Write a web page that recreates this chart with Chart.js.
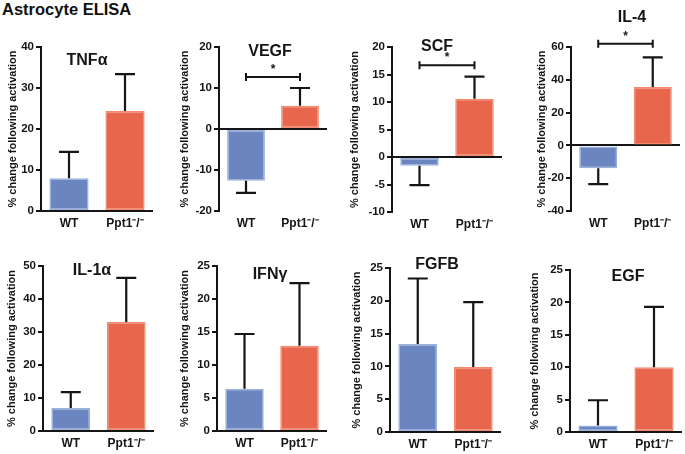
<!DOCTYPE html>
<html>
<head>
<meta charset="utf-8">
<script src="https://cdn.jsdelivr.net/npm/chart.js@4"></script>
<style>
  body { margin: 0; background: #fff; width: 685px; height: 454px; position: relative; overflow: hidden; }
  #heading { position: absolute; left: 2px; top: 0px; font: bold 16.5px "Liberation Sans", Arial, sans-serif; color: #111; }
  canvas { position: absolute; }
</style>
</head>
<body>
<div id="heading">Astrocyte ELISA</div>
<script>
// data
const cytokines = ['TNFα', 'VEGF', 'SCF', 'IL-4', 'IL-1α', 'IFNγ', 'FGFB', 'EGF'];
const groups = ['WT', 'Ppt1⁻/⁻'];
const wtMean = [8, -12.6, -1.6, -14, 7, 6.4, 13.4, 1];
const wtSD = [6.4, 3, 3.5, 9.6, 4.8, 8.3, 10, 3.9];
const ppt1Mean = [24.4, 5.7, 10.6, 35.6, 33, 12.9, 9.9, 10];
const ppt1SD = [9, 4.3, 4, 18.1, 13.4, 9.5, 9.9, 9.3];
const sigAt = [null, 12.7, 16.7, 62, null, null, null, null];
const yMin = [0, -20, -10, -40, 0, 0, 0, 0];
const yMax = [40, 20, 20, 60, 50, 25, 25, 25];
const yStep = [10, 10, 5, 20, 10, 5, 5, 5];

// where each panel sits on the page
const boxes = [
  { left: 2,   top: 0,   h: 232, axisX: 41,  right: 153, plotTop: 47,  plotBottom: 211, tx: 87,  ty: 61 },
  { left: 174, top: 0,   h: 232, axisX: 219, right: 327, plotTop: 47,  plotBottom: 211, tx: 270, ty: 52 },
  { left: 344, top: 0,   h: 232, axisX: 392, right: 502, plotTop: 47,  plotBottom: 212, tx: 437, ty: 47 },
  { left: 531, top: 0,   h: 232, axisX: 571, right: 680, plotTop: 47,  plotBottom: 211, tx: 632, ty: 18 },
  { left: 1,   top: 232, h: 222, axisX: 43,  right: 154, plotTop: 266, plotBottom: 431, tx: 92,  ty: 271 },
  { left: 174, top: 232, h: 222, axisX: 217, right: 327, plotTop: 266, plotBottom: 431, tx: 270, ty: 275 },
  { left: 346, top: 232, h: 222, axisX: 390, right: 501, plotTop: 268, plotBottom: 432, tx: 437, ty: 265 },
  { left: 524, top: 232, h: 222, axisX: 570, right: 682, plotTop: 270, plotBottom: 432, tx: 628, ty: 277 }
];

const FONT = '"Liberation Sans", Arial, sans-serif';
const INK = '#151515';

// error bars (one-sided, away from zero), significance bracket and panel title
const extras = {
  id: 'extras',
  afterDatasetsDraw(chart, args, o) {
    const { ctx } = chart;
    const x = chart.scales.x, y = chart.scales.y;
    const meta = chart.getDatasetMeta(0);
    ctx.save();
    ctx.strokeStyle = INK;
    ctx.lineWidth = 2.2;
    meta.data.forEach((bar, i) => {
      const v = o.means[i];
      const end = v < 0 ? v - o.errs[i] : v + o.errs[i];
      const y0 = y.getPixelForValue(v), y1 = y.getPixelForValue(end);
      ctx.beginPath();
      ctx.moveTo(bar.x, y0);
      ctx.lineTo(bar.x, y1);
      ctx.moveTo(bar.x - 10, y1);
      ctx.lineTo(bar.x + 10, y1);
      ctx.stroke();
    });
    if (o.sig != null) {
      const xa = x.getPixelForValue(0), xb = x.getPixelForValue(1);
      const ys = y.getPixelForValue(o.sig);
      ctx.lineWidth = 2;
      ctx.beginPath();
      ctx.moveTo(xa, ys); ctx.lineTo(xb, ys);
      ctx.moveTo(xa, ys - 4); ctx.lineTo(xa, ys + 4);
      ctx.moveTo(xb, ys - 4); ctx.lineTo(xb, ys + 4);
      ctx.stroke();
      ctx.fillStyle = INK;
      ctx.font = 'bold 12px ' + FONT;
      ctx.textAlign = 'center';
      ctx.textBaseline = 'middle';
      ctx.fillText('*', (xa + xb) / 2, ys - 7);
    }
    ctx.fillStyle = INK;
    ctx.font = 'bold 16px ' + FONT;
    ctx.textAlign = 'center';
    ctx.textBaseline = 'middle';
    ctx.fillText(o.title, o.tx, o.ty);
    ctx.restore();
  }
};

cytokines.forEach((name, i) => {
  const b = boxes[i];
  const cv = document.createElement('canvas');
  const w = b.right - b.left + 4;
  cv.width = w; cv.height = b.h;
  cv.style.left = b.left + 'px';
  cv.style.top = b.top + 'px';
  cv.style.width = w + 'px';
  cv.style.height = b.h + 'px';
  document.body.appendChild(cv);

  const yW = b.axisX - b.left;
  const padTop = b.plotTop - b.top;
  const xH = b.h - (b.plotBottom - b.top);

  new Chart(cv, {
    type: 'bar',
    data: {
      labels: groups,
      datasets: [{
        data: [wtMean[i], ppt1Mean[i]],
        backgroundColor: ['#6a85c0', '#e8674c'],
        borderColor: ['#9ab0dc', '#f28a72'],
        borderWidth: 1.5,
        borderSkipped: false,
        barPercentage: 0.7,
        categoryPercentage: 1
      }]
    },
    plugins: [extras],
    options: {
      responsive: false,
      animation: false,
      devicePixelRatio: 1,
      layout: { padding: { top: padTop, right: 4, bottom: 0, left: 0 } },
      plugins: {
        legend: { display: false },
        tooltip: { enabled: false },
        extras: {
          means: [wtMean[i], ppt1Mean[i]],
          errs: [wtSD[i], ppt1SD[i]],
          sig: sigAt[i],
          title: name,
          tx: b.tx - b.left,
          ty: b.ty - b.top
        }
      },
      scales: {
        x: {
          type: 'category',
          offset: true,
          grid: { display: false, drawTicks: false },
          border: { display: false },
          ticks: { color: INK, font: { family: FONT, size: 12, weight: 'bold' }, padding: 5 },
          afterFit: s => { s.height = xH; }
        },
        y: {
          min: yMin[i],
          max: yMax[i],
          ticks: { stepSize: yStep[i], color: INK, font: { family: FONT, size: 11.5, weight: 'bold' }, padding: 2 },
          border: { color: INK, width: 2 },
          grid: {
            drawOnChartArea: true,
            color: c => (c.tick && c.tick.value === 0 ? INK : 'rgba(0,0,0,0)'),
            tickColor: INK,
            tickLength: 5,
            lineWidth: 2
          },
          title: {
            display: true,
            text: '% change following activation',
            color: INK,
            font: { family: FONT, size: 11, weight: 'bold' },
            padding: { top: 4, bottom: 0 }
          },
          afterFit: s => { s.width = yW; }
        }
      }
    }
  });
});
</script>
</body>
</html>
